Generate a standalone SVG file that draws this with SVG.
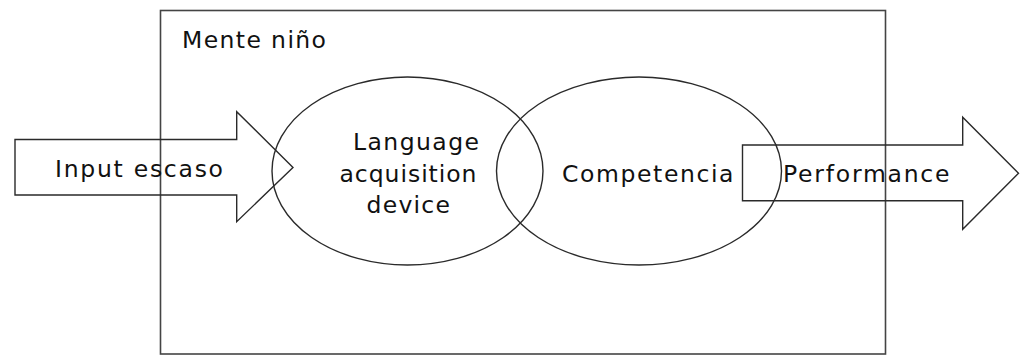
<svg xmlns="http://www.w3.org/2000/svg" width="1026" height="356" viewBox="0 0 1026 356">
<style>
.ln{fill:none;stroke:#2a2a2a;stroke-width:1.4}
.box{fill:none;stroke:#444;stroke-width:1.6}
text{font-family:"DejaVu Sans",Verdana,sans-serif;font-size:23.5px;fill:#111}
</style>
<rect width="1026" height="356" fill="#fff"/>
<g id="mente">
<rect class="box" x="160.5" y="10.5" width="725" height="343.5"/>
<text x="182" y="47.5" textLength="144" lengthAdjust="spacing">Mente niño</text>
</g>
<g id="lad">
<ellipse class="ln" cx="407.5" cy="171" rx="135.5" ry="94"/>
<text x="353" y="150" textLength="126" lengthAdjust="spacing">Language</text>
<text x="339.5" y="181.5" textLength="137" lengthAdjust="spacing">acquisition</text>
<text x="366.5" y="212.5" textLength="83.5" lengthAdjust="spacing">device</text>
</g>
<g id="competencia">
<ellipse class="ln" cx="639" cy="171" rx="142.5" ry="94"/>
<text x="562" y="182" textLength="171.5" lengthAdjust="spacing">Competencia</text>
</g>
<g id="connectors">
<g id="input">
<polygon class="ln" points="15,139.5 236.7,139.5 236.7,111.7 293,167.5 236.7,221.7 236.7,195 15,195"/>
<text x="55" y="176.5" textLength="168" lengthAdjust="spacing">Input escaso</text>
</g>
<g id="performance">
<polygon class="ln" points="742.5,145 962.7,145 962.7,117.3 1018.5,173.3 962.7,229.3 962.7,200.7 742.5,200.7"/>
<text x="783" y="181.5" textLength="166.5" lengthAdjust="spacing">Performance</text>
</g>
</g>
</svg>
